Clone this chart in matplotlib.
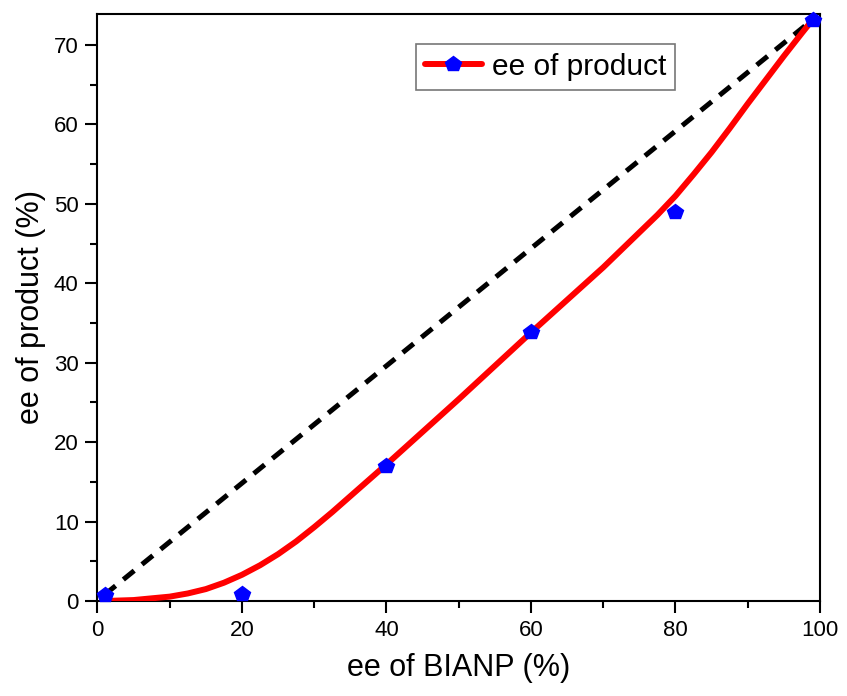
import numpy as np
import matplotlib
matplotlib.use("Agg")
import matplotlib.pyplot as plt
from matplotlib.ticker import MultipleLocator

plt.rcParams['font.family'] = ['Liberation Sans', 'DejaVu Sans']

# measured points
ee_bianp = [1, 20, 40, 60, 80, 99]
ee_product = [0.8, 0.9, 17.0, 33.9, 49.0, 73.2]

# fitted curve
fit_x = [1, 5, 10, 12.5, 15, 17.5, 20, 22.5, 25, 27.5, 30, 32.5, 35, 37.5, 40,
         45, 50, 55, 60, 65, 70, 75, 77.5, 80, 82.5, 85, 87.5, 90, 92.5, 95,
         97.5, 99]
fit_y = [0.0, 0.12, 0.55, 0.95, 1.5, 2.3, 3.3, 4.5, 5.9, 7.5, 9.3, 11.2, 13.2,
         15.2, 17.2, 21.3, 25.4, 29.6, 33.8, 37.9, 42.0, 46.4, 48.6, 51.0, 53.7,
         56.5, 59.5, 62.6, 65.6, 68.6, 71.5, 73.2]

# ideal (linear) reference line
ideal_x = [1, 99]
ideal_y = [0.8, 73.2]

fig = plt.figure(figsize=(8.47, 6.96), dpi=100)
ax = fig.add_axes([0.1151, 0.1365, 0.853, 0.8434])

ax.plot(ideal_x, ideal_y, color='black', lw=3.6, dashes=(2.8, 2.0))
ax.plot(fit_x, fit_y, color='red', lw=4.3, solid_capstyle='round',
        solid_joinstyle='round', zorder=3)
ax.plot(ee_bianp, ee_product, ls='none', marker='p', ms=11.5, color='blue',
        markeredgecolor='blue', clip_on=False, zorder=4)

# legend handle: line with marker
handle, = ax.plot([], [], color='red', lw=4.3, marker='p', ms=11.5,
                  markerfacecolor='blue', markeredgecolor='blue',
                  solid_capstyle='round')
leg = ax.legend([handle], ['ee of product'], loc='upper right',
                bbox_to_anchor=(0.80, 0.949), borderaxespad=0, fontsize=21.5,
                fancybox=False, edgecolor='#777777', framealpha=1,
                handlelength=1.9, handletextpad=0.35, borderpad=0.3)
leg.get_frame().set_linewidth(1.2)

ax.set_xlim(0, 100)
ax.set_ylim(0, 73.9)
ax.xaxis.set_major_locator(MultipleLocator(20))
ax.xaxis.set_minor_locator(MultipleLocator(10))
ax.yaxis.set_major_locator(MultipleLocator(10))
ax.yaxis.set_minor_locator(MultipleLocator(5))

ax.tick_params(which='both', direction='out', width=1.5, labelsize=16,
               top=False, right=False)
ax.tick_params(which='major', length=8.5, pad=5)
ax.tick_params(which='minor', length=5)
for s in ax.spines.values():
    s.set_linewidth(1.5)

ax.set_xlabel('ee of BIANP (%)', fontsize=22, labelpad=9)
ax.set_ylabel('ee of product (%)', fontsize=22, labelpad=6)

fig.savefig('out.png', dpi=100)
